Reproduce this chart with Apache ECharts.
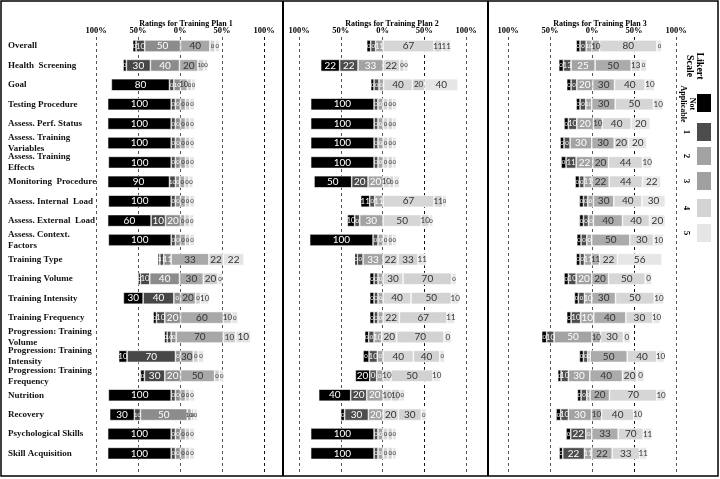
<!DOCTYPE html>
<html>
<head>
<meta charset="utf-8">
<title>Ratings for Training Plans</title>
<script src="https://cdn.jsdelivr.net/npm/echarts@6.0.0/dist/echarts.min.js"></script>
<style>
  html, body { margin: 0; padding: 0; background: #fff; }
  #chart { width: 720px; height: 479px; }
</style>
</head>
<body>
<div id="chart"></div>
<script>
var categories = [
  'Overall', 'Health  Screening', 'Goal', 'Testing Procedure', 'Assess. Perf. Status',
  'Assess. Training\nVariables', 'Assess. Training\nEffects', 'Monitoring  Procedure',
  'Assess. Internal  Load', 'Assess. External  Load', 'Assess. Context.\nFactors',
  'Training Type', 'Training Volume', 'Training Intensity', 'Training Frequency',
  'Progression: Training\nVolume', 'Progression: Training\nIntensity', 'Progression: Training\nFrequency',
  'Nutrition', 'Recovery', 'Psychological Skills', 'Skill Acquisition'
];
var scaleNames = ['Not Applicable', '1', '2', '3', '4', '5'];
var tickLabels = ['100%', '50%', '0%', '50%', '100%'];
var planTitles = ['Ratings for Training Plan 1', 'Ratings for Training Plan 2', 'Ratings for Training Plan 3'];

// where each bar begins (measured from the left 100% line) and how long each
// of its six segments is drawn, in axis % units; the printed figures are in *Pct
var plan1Start = [43.7, 32.2, 18.3, 13.9, 13.9, 13.9, 14.7, 13.9, 14.7, 13.9, 14.7,
  73.6, 50.1, 32.6, 68.0, 81.5, 27.0, 52.9, 14.7, 16.3, 13.9, 13.9];
var plan1Len = [
  [4, 10.3, 42.6, 35, 6, 5.6],
  [4, 28.6, 34.6, 21.9, 7.2, 4.7],
  [69.2, 5.2, 7.9, 8, 5.1, 4.8],
  [75.6, 5, 6, 6, 5, 5.8],
  [75.6, 5, 6, 6, 5, 5.8],
  [75.6, 5, 6, 6, 5, 5.8],
  [74.8, 5, 6, 6, 5, 5.8],
  [73.6, 7.1, 5.2, 6, 4.8, 5.1],
  [74.8, 5, 6, 6, 5, 5.8],
  [51.7, 17.1, 17.9, 5.2, 5.5, 5.2],
  [74.8, 5, 6, 6, 5, 5.8],
  [2.4, 4.7, 8.8, 44.9, 17.1, 24.7],
  [2.8, 11.1, 35.4, 28.3, 17.5, 5.1],
  [23.5, 36.6, 7.9, 17.9, 6, 9.9],
  [4, 9.9, 18.7, 50.9, 10, 7.5],
  [3.2, 4.8, 5.9, 56.1, 14.8, 17.9],
  [10, 57.6, 6, 15.1, 6, 6.8],
  [4.8, 24.2, 18.7, 40.6, 5.6, 5.5],
  [74.8, 5, 6, 6, 5, 5.8],
  [29.4, 7.2, 55.7, 4.8, 3.1, 4],
  [75.6, 5, 6, 6, 5, 5.8],
  [75.6, 5, 6, 6, 5, 5.8]
];
var plan1Pct = [
  [0, 10, 50, 40, 0, 0], [0, 30, 40, 20, 10, 0], [80, 0, 10, 10, 0, 0],
  [100, 0, 0, 0, 0, 0], [100, 0, 0, 0, 0, 0], [100, 0, 0, 0, 0, 0], [100, 0, 0, 0, 0, 0],
  [90, 10, 0, 0, 0, 0], [100, 0, 0, 0, 0, 0], [60, 10, 20, 0, 0, 0], [100, 0, 0, 0, 0, 0],
  [0, 11, 11, 33, 22, 22], [0, 10, 40, 30, 20, 0], [30, 40, 0, 20, 0, 10], [0, 10, 20, 60, 10, 0],
  [0, 10, 0, 70, 10, 10], [10, 70, 0, 30, 0, 0], [0, 30, 20, 50, 0, 0],
  [100, 0, 0, 0, 0, 0], [30, 10, 50, 10, 0, 0], [100, 0, 0, 0, 0, 0], [100, 0, 0, 0, 0, 0]
];

var plan2Start = [81.1, 26.0, 85.9, 14.0, 14.0, 14.0, 14.0, 18.0, 73.9, 57.9, 12.8,
  66.7, 84.7, 84.7, 84.7, 78.7, 76.7, 67.5, 23.6, 49.9, 14.0, 14.0];
var plan2Len = [
  [4.8, 5.9, 8.8, 61.1, 9.2, 10.8],
  [22.7, 22, 29.9, 20, 5.2, 4.8],
  [4, 5.9, 5.6, 34.4, 14.7, 39.9],
  [75.9, 4.7, 6, 6, 5.2, 4.8],
  [75.9, 4.7, 6, 6, 5.2, 4.8],
  [75.9, 4.7, 6, 6, 5.2, 4.8],
  [75.9, 4.7, 6, 6, 5.2, 4.8],
  [45.1, 19.6, 17.9, 8, 4.8, 7.2],
  [10.8, 6, 9.9, 61.1, 10, 4.8],
  [8.8, 6, 27.9, 45.9, 9.2, 4.8],
  [75.9, 5.9, 6, 6, 5.2, 4.8],
  [3.2, 6.8, 23.9, 18, 23.9, 10],
  [5.2, 4.7, 6, 24, 58.3, 5.6],
  [5.2, 4.7, 6, 33.6, 48.3, 9.2],
  [5.2, 4.7, 6, 19.6, 57.1, 9.2],
  [4.8, 6.4, 9.1, 18, 56.7, 8.8],
  [7.2, 9.9, 6.8, 36.4, 31.5, 6],
  [17.2, 8.3, 7.6, 9.6, 50.3, 8.8],
  [38.3, 19.2, 19.5, 10, 10, 6],
  [4.8, 28.4, 17.5, 18.4, 27.5, 6],
  [75.9, 4.7, 6, 6, 5.2, 4.8],
  [75.9, 4.7, 6, 6, 5.2, 4.8]
];
var plan2Pct = [
  [0, 0, 11, 67, 11, 11], [22, 22, 33, 22, 0, 0], [0, 0, 0, 40, 20, 40],
  [100, 0, 0, 0, 0, 0], [100, 0, 0, 0, 0, 0], [100, 0, 0, 0, 0, 0], [100, 0, 0, 0, 0, 0],
  [50, 20, 20, 10, 0, 0], [11, 0, 11, 67, 11, 0], [10, 0, 30, 50, 10, 0], [100, 0, 0, 0, 0, 0],
  [0, 0, 33, 22, 33, 11], [0, 0, 0, 30, 70, 0], [0, 0, 0, 40, 50, 10], [0, 0, 0, 22, 67, 11],
  [0, 0, 10, 20, 70, 0], [0, 10, 0, 40, 40, 0], [20, 0, 0, 10, 50, 10],
  [40, 20, 20, 10, 10, 0], [0, 30, 20, 20, 30, 0], [100, 0, 0, 0, 0, 0], [100, 0, 0, 0, 0, 0]
];

var plan3Start = [81.1, 60.4, 69.9, 81.1, 66.7, 62.0, 63.2, 79.9, 85.0, 85.0, 81.9,
  81.1, 66.7, 79.1, 69.9, 40.1, 85.0, 59.2, 82.6, 57.2, 69.1, 60.8];
var plan3Len = [
  [4.7, 7.2, 7.1, 8.8, 68.4, 5.9],
  [5.6, 9.1, 28.6, 42.9, 10.8, 7.9],
  [5.2, 6.8, 19, 25.9, 36.5, 11.2],
  [4.7, 6.8, 7.1, 27.9, 45.7, 11.1],
  [5.2, 10, 19.8, 10.4, 34.5, 22.7],
  [4.7, 7.2, 25.8, 26.7, 17.1, 21.8],
  [5.9, 12, 19.8, 18.7, 40.6, 11.1],
  [5.1, 5.6, 9.5, 20.3, 39.8, 21.8],
  [4.8, 5.2, 6.7, 24.3, 33.4, 27.8],
  [4.8, 6, 5.9, 34.6, 32.2, 18.7],
  [5.1, 6.8, 5.9, 45.4, 28.2, 11.9],
  [4.7, 5.2, 8.7, 9.2, 21.4, 52.9],
  [5.2, 9.2, 18.6, 19.9, 43.7, 8],
  [4.7, 7.2, 8.7, 28.3, 46.1, 11.1],
  [5.2, 11.5, 15.5, 38.2, 32.2, 8.7],
  [6, 8.7, 45.3, 10, 27.4, 8],
  [4.8, 5.2, 2.8, 44.1, 35.4, 8.7],
  [4, 8.7, 25.5, 38.9, 17.1, 8.8],
  [4.4, 6.8, 4, 23, 56.5, 9.9],
  [5.6, 9.1, 27.4, 12, 38.5, 9.6],
  [5.6, 17.9, 7.1, 31.4, 29.9, 10.3],
  [4.4, 25.8, 8.7, 24.3, 32.6, 8.7]
];
var plan3Pct = [
  [0, 0, 10, 10, 80, 0], [0, 13, 25, 50, 13, 0], [0, 0, 20, 30, 40, 10], [0, 0, 10, 30, 50, 10],
  [0, 10, 20, 10, 40, 20], [0, 0, 30, 30, 20, 20], [0, 11, 22, 20, 44, 10], [0, 0, 11, 22, 44, 22],
  [0, 0, 0, 30, 40, 30], [0, 0, 0, 40, 40, 20], [0, 0, 0, 50, 30, 10],
  [0, 0, 11, 11, 22, 56], [0, 10, 20, 20, 50, 0], [0, 0, 10, 30, 50, 10], [0, 10, 10, 40, 30, 10],
  [0, 10, 50, 10, 30, 0], [0, 0, 0, 50, 40, 10], [0, 10, 30, 40, 20, 0],
  [0, 0, 0, 20, 70, 10], [0, 10, 30, 10, 40, 10], [0, 22, 0, 33, 70, 11], [0, 22, 11, 22, 33, 11]
];

var plan1Colors = ['#000000', '#474747', '#8c8c8c', '#a8a8a8', '#d0d0d0', '#e4e4e4'];
var plan2Colors = ['#000000', '#4d4d4d', '#a3a3a3', '#d6d6d6', '#d2d2d2', '#e6e6e6'];
var plan3Colors = ['#000000', '#4d4d4d', '#a3a3a3', '#ababab', '#d6d6d6', '#e6e6e6'];
var legendColors = ['#000000', '#4d4d4d', '#a3a3a3', '#a0a0a0', '#d3d3d3', '#e6e6e6'];

var plans = [
  { start: plan1Start, len: plan1Len, pct: plan1Pct, colors: plan1Colors },
  { start: plan2Start, len: plan2Len, pct: plan2Pct, colors: plan2Colors },
  { start: plan3Start, len: plan3Len, pct: plan3Pct, colors: plan3Colors }
];

var serif = '"Liberation Serif", "Times New Roman", serif';
var panelLeft = [96, 299, 508];
var panelWidth = [168, 167, 168];
var titleX = [181, 387, 595];

var grid = [], xAxis = [], yAxis = [], series = [], title = [];

plans.forEach(function (p, i) {
  // grid for the bars, and a taller one that only carries the dashed guides
  grid.push({ left: panelLeft[i], width: panelWidth[i], top: 36.3, height: 426.8 });
  grid.push({ left: panelLeft[i], width: panelWidth[i], top: 37, height: 438 });

  xAxis.push({ gridIndex: 2 * i, type: 'value', min: 0, max: 200, show: false });
  xAxis.push({
    gridIndex: 2 * i + 1, type: 'value', min: 0, max: 200, interval: 50, position: 'top',
    axisLine: { show: false }, axisTick: { show: false },
    axisLabel: {
      margin: 2, fontFamily: serif, fontWeight: 'bold', fontSize: 8.5, color: '#000',
      formatter: function (v) { return tickLabels[Math.round(v / 50)]; }
    },
    splitLine: { show: true, lineStyle: { type: [3, 3], width: 1,
      color: i == 0 ? ['#555', '#555', '#555', '#555', '#111'] : ['#555', '#555', '#555', '#111', '#555'] } }
  });

  yAxis.push({
    gridIndex: 2 * i, type: 'category', inverse: true, data: categories,
    axisLine: { show: false }, axisTick: { show: false },
    axisLabel: i == 0 ? {
      align: 'left', margin: 88, fontFamily: serif, fontWeight: 'bold',
      fontSize: 9, lineHeight: 11, color: '#111'
    } : { show: false }
  });
  yAxis.push({ gridIndex: 2 * i + 1, type: 'value', min: 0, max: 1, show: false });

  title.push({
    text: planTitles[i], left: titleX[i], top: 15, textAlign: 'center',
    textStyle: { fontFamily: serif, fontWeight: 'bold', fontSize: 8, color: '#000' }
  });

  // invisible spacer that pushes each bar to where it starts
  series.push({
    type: 'bar', xAxisIndex: 2 * i, yAxisIndex: 2 * i, stack: 'plan' + i,
    barWidth: 12, silent: true, data: p.start,
    itemStyle: { color: 'rgba(0,0,0,0)' }
  });

  for (var k = 0; k < 6; k++) {
    (function (k) {
      series.push({
        name: scaleNames[k], type: 'bar', xAxisIndex: 2 * i, yAxisIndex: 2 * i,
        stack: 'plan' + i, barWidth: 12,
        itemStyle: { color: p.colors[k], borderColor: '#fff', borderWidth: 0.6 },
        label: {
          show: true, position: 'inside', fontFamily: 'Lato, "Liberation Sans", sans-serif',
          color: k < 3 ? '#fff' : '#333',
          formatter: function (prm) { return String(p.pct[prm.dataIndex][k]); }
        },
        data: p.len.map(function (row) {
          var w = row[k];
          return { value: w, label: { fontSize: w >= 15 ? 10 : (w >= 8 ? 8 : 6) } };
        })
      });
    })(k);
  }
});

// legend drawn on its side, as in the figure
var legendY = [94, 123, 147, 172, 199, 224];
var graphic = [
  { type: 'rect', silent: true, shape: { x: 1, y: 1, width: 717, height: 475 },
    style: { fill: 'none', stroke: '#000', lineWidth: 1.5 } },
  { type: 'line', silent: true, shape: { x1: 283, y1: 1, x2: 283, y2: 476 },
    style: { stroke: '#000', lineWidth: 2 } },
  { type: 'line', silent: true, shape: { x1: 488, y1: 1, x2: 488, y2: 476 },
    style: { stroke: '#000', lineWidth: 2 } },
  { type: 'text', silent: true, x: 695, y: 66, rotation: -Math.PI / 2,
    style: { text: 'Likert\nScale', font: 'bold 10px ' + serif, textAlign: 'center',
      textVerticalAlign: 'middle', fill: '#000', lineHeight: 10 } },
  { type: 'text', silent: true, x: 688, y: 104, rotation: -Math.PI / 2,
    style: { text: 'Not\nApplicable', font: 'bold 8px ' + serif, textAlign: 'center',
      textVerticalAlign: 'middle', fill: '#000', lineHeight: 9 } }
];
legendY.forEach(function (y, k) {
  graphic.push({ type: 'rect', silent: true, shape: { x: 697, y: y, width: 14, height: 18 },
    style: { fill: legendColors[k] } });
  if (k > 0) {
    graphic.push({ type: 'text', silent: true, x: 686, y: y + 9, rotation: -Math.PI / 2,
      style: { text: scaleNames[k], font: 'bold 9px ' + serif, textAlign: 'center',
        textVerticalAlign: 'middle', fill: '#000' } });
  }
});

var myChart = echarts.init(document.getElementById('chart'), null, { renderer: 'canvas' });
myChart.setOption({
  backgroundColor: '#fff',
  animation: false,
  title: title,
  grid: grid,
  xAxis: xAxis,
  yAxis: yAxis,
  series: series,
  graphic: graphic
});
</script>
</body>
</html>
